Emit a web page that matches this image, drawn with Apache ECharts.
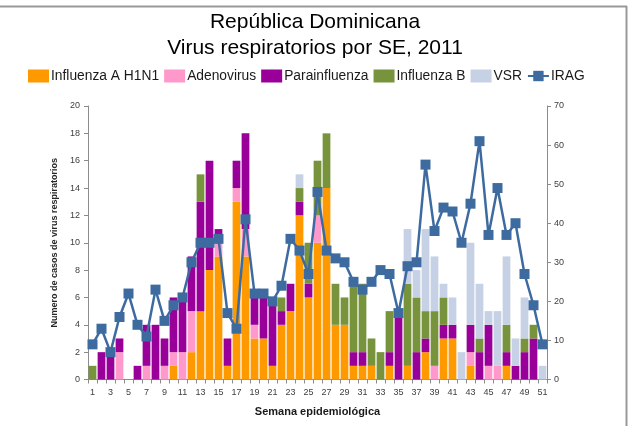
<!DOCTYPE html>
<html>
<head>
<meta charset="utf-8">
<script src="https://cdn.jsdelivr.net/npm/echarts@6/dist/echarts.min.js"></script>
<style>
  html, body { margin: 0; padding: 0; background: #fff; }
  #chart { width: 630px; height: 426px; }
</style>
</head>
<body>
<div id="chart"></div>
<script>
// Epidemiological weeks 1..51
const weeks = Array.from({ length: 51 }, (_, i) => String(i + 1));

// Weekly counts of respiratory virus detections (left axis)
const influenzaAH1N1 = [0,0,0,0,0,0,0,0,0,1, 0,2,5,8,9,1,13,9,3,3, 1,4,5,12,6,10,14,4,4,1, 1,1,0,1,0,1,0,2,0,3, 3,0,1,0,0,0,1,0,0,0, 0];
const adenovirus     = [0,0,0,2,0,0,1,0,1,1, 2,3,0,0,1,0,1,2,1,0, 0,0,0,0,0,2,0,0,0,0, 0,0,0,0,0,0,0,0,1,0, 0,0,1,0,1,1,0,0,0,0, 0];
const parainfluenza  = [0,2,2,1,0,1,3,4,2,4, 4,4,8,8,1,2,2,7,2,3, 5,1,2,1,1,0,0,0,0,1, 1,0,0,1,5,0,2,1,0,1, 1,0,2,2,3,0,1,1,2,3, 0];
const influenzaB     = [1,0,0,0,0,0,0,0,0,0, 0,0,2,0,0,0,0,0,0,0, 0,1,0,1,3,4,4,3,2,5, 5,2,2,3,0,6,4,2,4,2, 0,0,0,1,0,0,2,0,1,1, 0];
const vsr            = [0,0,0,0,0,0,0,0,0,0, 0,0,0,0,0,0,0,0,0,0, 0,0,0,1,0,0,0,0,0,0, 0,0,0,0,0,4,2,6,4,1, 2,2,6,4,1,4,5,2,3,0, 1];

// Severe acute respiratory infection cases (right axis)
const irag = [9,13,7,16,22,14,11,23,15,19, 21,30,35,35,36,17,13,41,22,22, 20,24,36,33,27,48,33,31,30,25, 23,25,28,27,17,29,30,55,38,44, 43,35,45,61,37,49,37,40,27,19, 9];

const colors = {
  h1n1: '#FF9900',
  adeno: '#FF99CC',
  para: '#990099',
  fluB: '#77933C',
  vsr: '#C6D1E5',
  irag: '#3D6BA0'
};

const chart = echarts.init(document.getElementById('chart'), null, { renderer: 'canvas' });

const tickFont = { fontFamily: 'Liberation Sans Narrow, Liberation Sans, sans-serif', fontSize: 9, color: '#404040' };

function barSeries(name, data, color) {
  return {
    name, type: 'bar', stack: 'virus', data,
    barCategoryGap: '14%',
    itemStyle: { color },
    emphasis: { disabled: true }
  };
}

chart.setOption({
  animation: false,
  title: {
    text: 'República Dominicana\nVirus respiratorios por SE, 2011',
    left: 'center', top: 4,
    textStyle: { fontFamily: 'Liberation Sans, Arial, sans-serif', fontSize: 21, fontWeight: 'normal', color: '#000', lineHeight: 26 }
  },
  legend: {
    left: 23, top: 64,
    itemWidth: 21, itemHeight: 13, itemGap: 5,
    textStyle: { fontFamily: 'Liberation Sans Narrow, Liberation Sans, sans-serif', fontSize: 13.8, color: '#1a1a1a', padding: [0, 0, 0, -3] },
    data: [
      { name: 'Influenza A H1N1', icon: 'rect' },
      { name: 'Adenovirus', icon: 'rect' },
      { name: 'Parainfluenza', icon: 'rect' },
      { name: 'Influenza B', icon: 'rect' },
      { name: 'VSR', icon: 'rect' },
      { name: 'IRAG' }
    ]
  },
  grid: { left: 88, right: 83, top: 106, bottom: 46.5, containLabel: false },
  xAxis: {
    type: 'category', data: weeks,
    name: 'Semana epidemiológica', nameLocation: 'middle', nameGap: 27,
    nameTextStyle: { fontFamily: 'Liberation Sans Narrow, Liberation Sans, sans-serif', fontSize: 11, fontWeight: 'bold', color: '#1a1a1a' },
    axisLine: { lineStyle: { color: '#8c8c8c' } },
    axisTick: { show: true, interval: 0, length: 4, lineStyle: { color: '#8c8c8c' } },
    axisLabel: Object.assign({ interval: 1, margin: 9 }, tickFont)
  },
  yAxis: [
    {
      type: 'value', min: 0, max: 20, interval: 2,
      name: 'Numero de casos de virus respiratorios', nameLocation: 'middle', nameGap: 24,
      nameRotate: 90,
      nameTextStyle: { fontFamily: 'Liberation Sans Narrow, Liberation Sans, sans-serif', fontSize: 9, fontWeight: 'bold', color: '#262626' },
      axisLine: { show: true, lineStyle: { color: '#8c8c8c' } },
      axisTick: { show: true, length: 4, lineStyle: { color: '#8c8c8c' } },
      axisLabel: Object.assign({ margin: 8 }, tickFont),
      splitLine: { show: false }
    },
    {
      type: 'value', min: 0, max: 70, interval: 10, position: 'right',
      axisLine: { show: true, lineStyle: { color: '#8c8c8c' } },
      axisTick: { show: true, length: 4, lineStyle: { color: '#8c8c8c' } },
      axisLabel: Object.assign({ margin: 7 }, tickFont),
      splitLine: { show: false }
    }
  ],
  series: [
    barSeries('Influenza A H1N1', influenzaAH1N1, colors.h1n1),
    barSeries('Adenovirus', adenovirus, colors.adeno),
    barSeries('Parainfluenza', parainfluenza, colors.para),
    barSeries('Influenza B', influenzaB, colors.fluB),
    barSeries('VSR', vsr, colors.vsr),
    {
      name: 'IRAG', type: 'line', yAxisIndex: 1, data: irag,
      symbol: 'rect', symbolSize: 10, showAllSymbol: true,
      lineStyle: { color: colors.irag, width: 2.5 },
      itemStyle: { color: colors.irag },
      emphasis: { disabled: true },
      z: 5
    }
  ],
  graphic: [
    { type: 'line', shape: { x1: 0, y1: 6.5, x2: 627, y2: 6.5 }, style: { stroke: '#999', lineWidth: 2 } },
    { type: 'line', shape: { x1: 626.5, y1: 6, x2: 626.5, y2: 426 }, style: { stroke: '#999', lineWidth: 2 } }
  ]
});
</script>
</body>
</html>
